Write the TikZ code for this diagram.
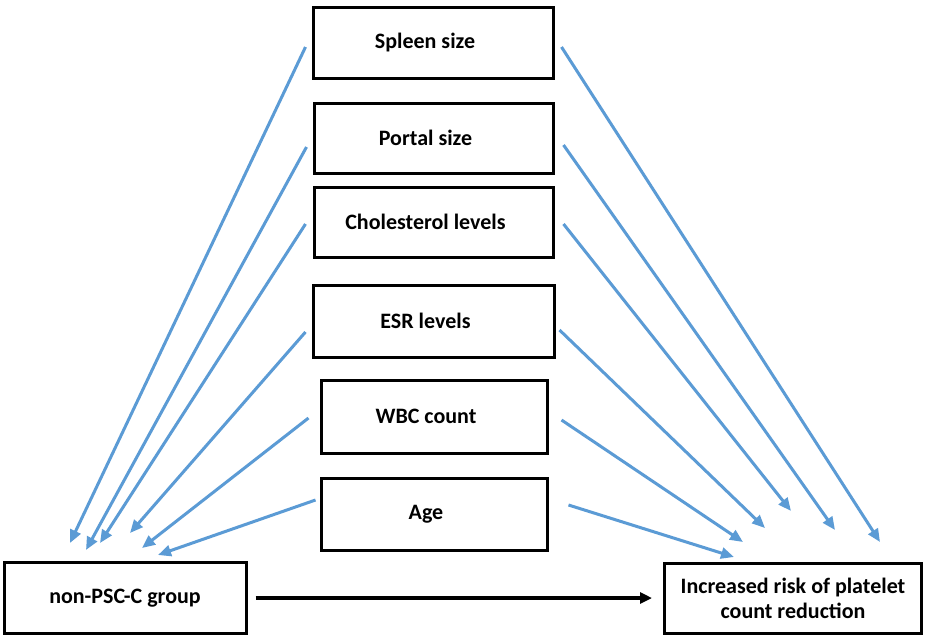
\documentclass[tikz,border=0pt]{standalone}
\usepackage{fontspec}
\setmainfont{Carlito}
\usetikzlibrary{arrows.meta}
\definecolor{lineblue}{HTML}{5B9BD5}
\begin{document}
\begin{tikzpicture}[x=1pt,y=-1pt,
  box/.style={draw=black,line width=3pt,fill=white,inner sep=0pt,
    font=\bfseries\fontsize{22}{25}\selectfont},
  factor/.style={box,execute at end node={\hspace*{16pt}}},
  bluearrow/.style={draw=lineblue,line width=3pt,-{Triangle[length=13pt,width=11pt]}},
  blackarrow/.style={draw=black,line width=3.4pt,-{Triangle[length=12pt,width=11pt]}}]
\useasboundingbox (0,0) rectangle (925,635);
\fill[white] (0,0) rectangle (925,635);
% factor boxes
\node[factor,minimum width=240,minimum height=71] (spleen) at (433,42.5) {Spleen size};
\node[factor,minimum width=239,minimum height=70] (portal) at (433.5,138) {Portal size};
\node[factor,minimum width=239,minimum height=70] (chol) at (433.5,222) {Cholesterol levels};
\node[factor,minimum width=241,minimum height=72] (esr) at (433.5,321) {ESR levels};
\node[factor,minimum width=226,minimum height=73] (wbc) at (434,416.5) {WBC count};
\node[factor,minimum width=226,minimum height=72] (age) at (434,514) {Age};
% outcome boxes
\node[box,minimum width=242,minimum height=71] (group) at (125,598) {non-PSC-C group};
\node[box,align=center,minimum width=257,minimum height=70] (risk) at (793,598) {Increased risk of platelet\\count reduction};
% free ends of the blue connectors
\coordinate (lspleen) at (70,543);
\coordinate (lportal) at (86,550);
\coordinate (lchol) at (100,543);
\coordinate (lesr) at (130,533);
\coordinate (lwbc) at (142,548);
\coordinate (lage) at (158,555);
\coordinate (rspleen) at (880,542);
\coordinate (rportal) at (835,530);
\coordinate (rchol) at (791,511);
\coordinate (resr) at (765,528);
\coordinate (rwbc) at (743,542);
\coordinate (rage) at (734,557);
% left connectors
\draw[bluearrow] ([shift={(-6,4.5)}]spleen.west) -- (lspleen);
\draw[bluearrow] ([shift={(-6,9)}]portal.west) -- (lportal);
\draw[bluearrow] ([shift={(-7,2)}]chol.west) -- (lchol);
\draw[bluearrow] ([shift={(-6,11)}]esr.west) -- (lesr);
\draw[bluearrow] ([shift={(-11,1.5)}]wbc.west) -- (lwbc);
\draw[bluearrow] ([shift={(-4,-14)}]age.west) -- (lage);
% right connectors
\draw[bluearrow] ([shift={(7,4.5)}]spleen.east) -- (rspleen);
\draw[bluearrow] ([shift={(9,7)}]portal.east) -- (rportal);
\draw[bluearrow] ([shift={(9,2)}]chol.east) -- (rchol);
\draw[bluearrow] ([shift={(4,9)}]esr.east) -- (resr);
\draw[bluearrow] ([shift={(13,3.5)}]wbc.east) -- (rwbc);
\draw[bluearrow] ([shift={(20,-9)}]age.east) -- (rage);
% main arrow
\draw[blackarrow] ([xshift=8pt]group.east) -- ([xshift=-11pt]risk.west);
\end{tikzpicture}
\end{document}
